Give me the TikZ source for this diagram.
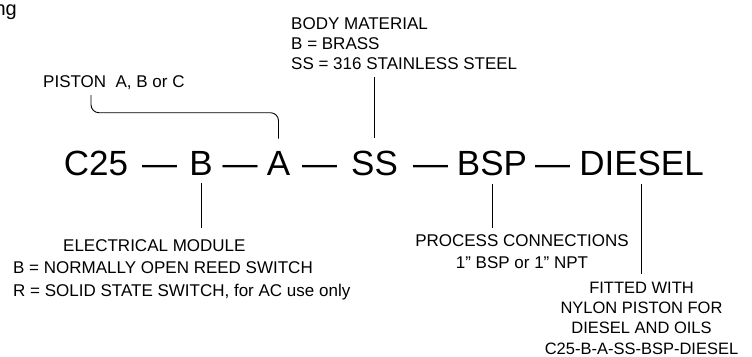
\documentclass[tikz,border=0pt]{standalone}
\usepackage{fontspec}
\setmainfont{Liberation Sans}
\usetikzlibrary{positioning,calc}
\definecolor{ink}{HTML}{000000}
\tikzset{
  code/.style ={inner sep=0pt,anchor=base,text=ink,
                font=\fontsize{35}{42}\selectfont},
  note/.style ={inner sep=0pt,text=ink,font=\fontsize{17}{21}\selectfont},
  lead/.style ={line width=0.9pt,draw=ink}
}

\begin{document}
\begin{tikzpicture}[x=1pt,y=1pt]
        \useasboundingbox (0,0) rectangle (752,-356);
        \node[note,anchor=base east,font=\fontsize{20}{24}\selectfont] (title) at (17,-15) {ng};
        \node[code] (c25) at (96,-175) {C25};
        \node[code] (d1) at (159.5,-175) {\textemdash};
        \node[code] (b) at (201,-175) {B};
        \node[code] (d2) at (240,-175) {\textemdash};
        \node[code] (a) at (278.5,-175) {A};
        \node[code] (d3) at (319.5,-175) {\textemdash};
        \node[code] (ss) at (374.5,-175) {SS};
        \node[code] (d4) at (430.5,-175) {\textemdash};
        \node[code] (bsp) at (492,-175) {BSP};
        \node[code] (d5) at (552.5,-175) {\textemdash};
        \node[code] (diesel) at (641.5,-175) {DIESEL};
        \node[note,anchor=base west] (piston) at (43,-87) {PISTON\ \ A, B or C};
        \node[note,anchor=north west,align=left,font=\fontsize{17}{20}\selectfont] (body) at (291,-17)
          {BODY MATERIAL\\B = BRASS\\SS = 316 STAINLESS STEEL};
        \node[note,anchor=north west,align=left,font=\fontsize{17}{22.5}\selectfont] (elec) at (13,-239)
          {\hspace*{50pt}ELECTRICAL MODULE\\B = NORMALLY OPEN REED SWITCH\\
           R = SOLID STATE SWITCH, for AC use only};
        \node[note,anchor=north,align=center,font=\fontsize{17}{22.5}\selectfont] (proc) at (522,-234)
          {PROCESS CONNECTIONS\\1” BSP or 1” NPT};
        \node[note,anchor=north,align=center,font=\fontsize{16.5}{20.2}\selectfont] (fit) at (641.5,-282)
          {FITTED WITH\\NYLON PISTON FOR\\DIESEL AND OILS\\C25-B-A-SS-BSP-DIESEL};
        \coordinate (pk) at ($(piston.base west)+(48,-8)$);
        \draw[lead,rounded corners=8pt] (pk) |- ([yshift=38pt]a.north) -- ([yshift=12pt]a.north);
        \draw[lead,shorten <=8pt,shorten >=12pt] (ss.north |- body.south) -- (ss.north);
        \draw[lead,shorten <=8pt,shorten >=11pt] (b.south) -- (b.south |- elec.north);
        \draw[lead,shorten <=8pt,shorten >=6pt] (bsp.south) -- (bsp.south |- proc.north);
        \draw[lead,shorten <=8pt,shorten >=8pt] (diesel.south) -- (diesel.south |- fit.north);
      \end{tikzpicture}
\end{document}
